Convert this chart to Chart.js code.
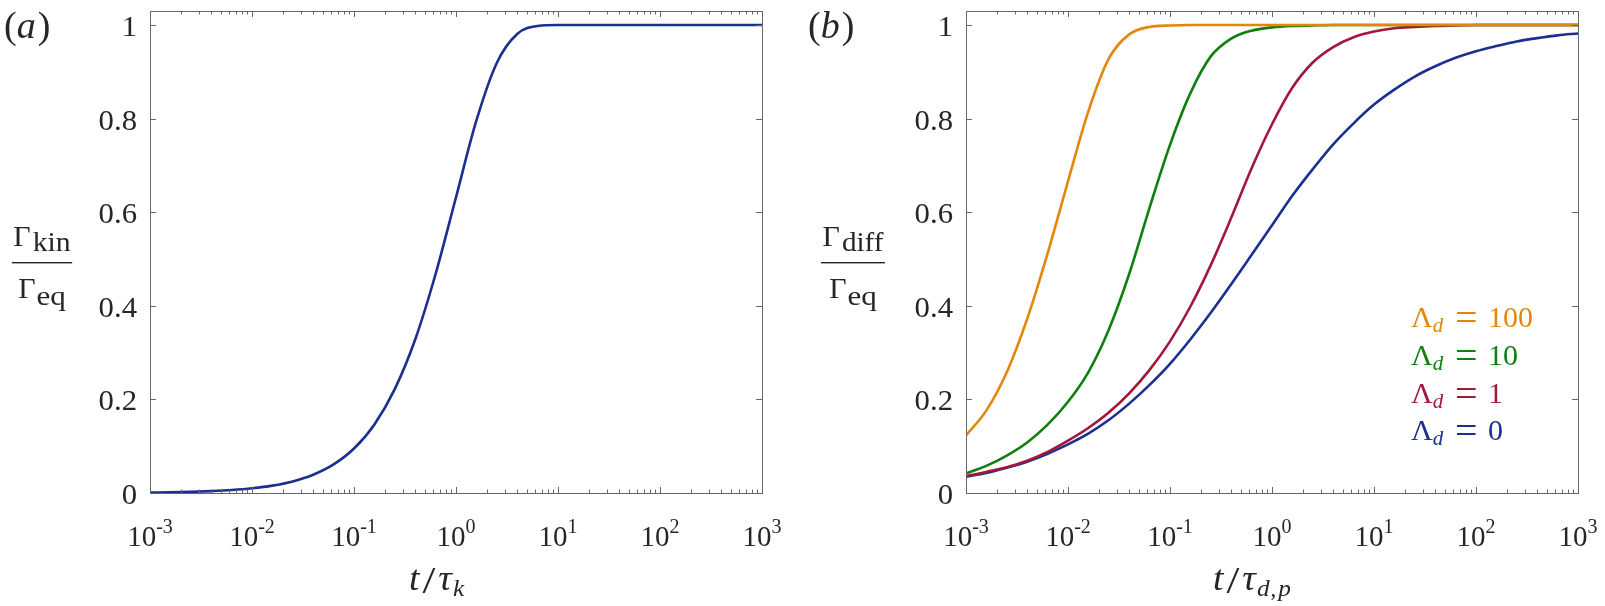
<!DOCTYPE html>
<html>
<head>
<meta charset="utf-8">
<script src="https://cdn.jsdelivr.net/npm/chart.js@4.4.1/dist/chart.umd.min.js"></script>
<style>
  html, body { margin: 0; padding: 0; background: #fff; }
  #wrap { position: relative; width: 1605px; height: 606px; }
  canvas { position: absolute; left: 0; top: 0; }
</style>
</head>
<body>
<div id="wrap">
  <canvas id="panel-a" width="1605" height="606"></canvas>
  <canvas id="panel-b" width="1605" height="606"></canvas>
</div>
<script>
// ticks
const yTicks = [0, 0.2, 0.4, 0.6, 0.8, 1];
const yTickLabels = ['0', '0.2', '0.4', '0.6', '0.8', '1'];
const xDecades = [1e-3, 1e-2, 1e-1, 1, 10, 100, 1000];
const xTickExps = ['-3', '-2', '-1', '0', '1', '2', '3'];

// time samples (5 per decade)
const tGrid = [0.001, 0.00158, 0.00251, 0.00398, 0.00631, 0.01, 0.0158, 0.0251, 0.0398, 0.0631,
               0.1, 0.158, 0.251, 0.398, 0.631, 1, 1.58, 2.51, 3.98, 6.31,
               10, 15.8, 25.1, 39.8, 63.1, 100, 158, 251, 398, 631, 1000];

// panel (a): kinetic adsorption
const gammaKin = [0.001, 0.0016, 0.0025, 0.004, 0.0063, 0.010, 0.0157, 0.0248, 0.039, 0.061,
                  0.095, 0.146, 0.222, 0.328, 0.468, 0.632, 0.795, 0.919, 0.981, 0.998,
                  1, 1, 1, 1, 1, 1, 1, 1, 1, 1, 1];

// panel (b): diffusion, one series per Lambda_d
const lambda100 = [0.123, 0.176, 0.258, 0.372, 0.512, 0.666, 0.815, 0.928, 0.980, 0.996,
                   0.999, 1, 1, 1, 1, 1, 1, 1, 1, 1,
                   1, 1, 1, 1, 1, 1, 1, 1, 1, 1, 1];
const lambda10 = [0.042, 0.058, 0.080, 0.108, 0.146, 0.195, 0.258, 0.349, 0.468, 0.610,
                  0.744, 0.854, 0.933, 0.971, 0.988, 0.995, 0.998, 0.999, 1, 1,
                  1, 1, 1, 1, 1, 1, 1, 1, 1, 1, 1];
const lambda1 = [0.036, 0.045, 0.055, 0.069, 0.088, 0.112, 0.139, 0.172, 0.213, 0.263,
                 0.324, 0.398, 0.487, 0.588, 0.694, 0.788, 0.866, 0.920, 0.953, 0.974,
                 0.986, 0.993, 0.996, 0.998, 0.999, 1, 1, 1, 1, 1, 1];
const lambda0 = [0.035, 0.043, 0.054, 0.067, 0.084, 0.104, 0.127, 0.156, 0.191, 0.231,
                 0.276, 0.328, 0.385, 0.446, 0.509, 0.572, 0.635, 0.692, 0.745, 0.790,
                 0.830, 0.862, 0.890, 0.912, 0.930, 0.944, 0.955, 0.965, 0.972, 0.978, 0.982];

const BLUE = '#1b2f8f';
const RED = '#a3173a';
const GREEN = '#0f7f0f';
const ORANGE = '#e3870c';
const TEXT = '#262626';
const AXIS = '#666666';
const SERIF = '"Liberation Serif", "Times New Roman", serif';

function font(size, italic) {
    return (italic ? 'italic ' : '') + size + 'px ' + SERIF;
}

function toPoints(xs, ys) {
    return xs.map((x, i) => ({ x: x, y: ys[i] }));
}

function runsWidth(ctx, runs) {
    let w = 0;
    runs.forEach(r => {
        ctx.font = r.font;
        w += ctx.measureText(r.text).width * (r.sx || 1) + (r.gap || 0);
    });
    return w;
}

// draws a row of text pieces (optionally stretched sideways)
function drawRuns(ctx, runs, x, y, align) {
    const w = runsWidth(ctx, runs);
    let cx = align === 'center' ? x - w / 2 : (align === 'right' ? x - w : x);
    runs.forEach(r => {
        ctx.font = r.font;
        ctx.fillStyle = r.color || TEXT;
        ctx.save();
        ctx.translate(cx, y + (r.dy || 0));
        ctx.scale(r.sx || 1, 1);
        ctx.fillText(r.text, 0, 0);
        ctx.restore();
        cx += ctx.measureText(r.text).width * (r.sx || 1) + (r.gap || 0);
    });
    return w;
}

function panelDecor(cfg) {
    return {
        id: 'decor' + cfg.name,
        afterDatasetsDraw(chart) {
            const ctx = chart.ctx;
            const xs = chart.scales.x;
            const ys = chart.scales.y;
            const { left, right, top, bottom } = chart.chartArea;
            ctx.save();
            ctx.textBaseline = 'alphabetic';
            ctx.textAlign = 'left';

            // box and inward ticks
            ctx.strokeStyle = AXIS;
            ctx.lineWidth = 1;
            ctx.strokeRect(Math.round(left) + 0.5, Math.round(top) + 0.5, Math.round(right - left), Math.round(bottom - top));
            ctx.beginPath();
            yTicks.forEach(v => {
                const py = Math.round(ys.getPixelForValue(v)) + 0.5;
                ctx.moveTo(left, py); ctx.lineTo(left + 6, py);
                ctx.moveTo(right, py); ctx.lineTo(right - 6, py);
            });
            xDecades.forEach((d, i) => {
                const px = Math.round(xs.getPixelForValue(d)) + 0.5;
                ctx.moveTo(px, bottom); ctx.lineTo(px, bottom - 6);
                ctx.moveTo(px, top); ctx.lineTo(px, top + 6);
                if (i < xDecades.length - 1) {
                    for (let m = 2; m <= 9; m++) {
                        const pm = Math.round(xs.getPixelForValue(m * d)) + 0.5;
                        ctx.moveTo(pm, bottom); ctx.lineTo(pm, bottom - 3.5);
                        ctx.moveTo(pm, top); ctx.lineTo(pm, top + 3.5);
                    }
                }
            });
            ctx.stroke();

            // tick labels
            yTicks.forEach((v, i) => {
                const py = ys.getPixelForValue(v);
                drawRuns(ctx, [{ text: yTickLabels[i], font: font(29), sx: 1.06 }], left - 13, py + 11, 'right');
            });
            xDecades.forEach((d, i) => {
                const px = xs.getPixelForValue(d);
                drawRuns(ctx, [
                    { text: '10', font: font(29) },
                    { text: xTickExps[i], font: font(20), dy: -13 }
                ], px, 546, 'center');
            });

            // x title
            drawRuns(ctx, cfg.xTitle, cfg.xTitleX, 590, 'left');

            // y title as a fraction
            const wn = runsWidth(ctx, cfg.yNum);
            const wd = runsWidth(ctx, cfg.yDen);
            const barW = Math.max(wn, wd) + 3;
            drawRuns(ctx, cfg.yNum, cfg.yTitleX, 246, 'center');
            drawRuns(ctx, cfg.yDen, cfg.yTitleX, 298, 'center');
            ctx.fillStyle = TEXT;
            ctx.fillRect(cfg.yTitleX - barW / 2, 262, barW, 1.4);

            // panel letter
            drawRuns(ctx, [
                { text: '(', font: font(38) },
                { text: cfg.letter, font: font(38, true), gap: 2 },
                { text: ')', font: font(38) }
            ], cfg.letterX, 38, 'left');

            if (cfg.legend) {
                cfg.legend.forEach((row, i) => {
                    const by = 327 + i * 37.8;
                    drawRuns(ctx, [{ text: 'Λ', font: font(30), color: row.color },
                                   { text: 'd', font: font(21, true), dy: 5, color: row.color }], 1411, by, 'left');
                    drawRuns(ctx, [{ text: '=', font: font(40), color: row.color }], 1455, by + 4, 'left');
                    drawRuns(ctx, [{ text: row.label, font: font(30), color: row.color }], 1488, by, 'left');
                });
            }
            ctx.restore();
        }
    };
}

function makeChart(canvasId, datasets, padding, decor) {
    return new Chart(document.getElementById(canvasId), {
        type: 'line',
        data: { datasets: datasets },
        options: {
            responsive: false,
            animation: false,
            events: [],
            layout: { padding: padding },
            plugins: { legend: { display: false }, tooltip: { enabled: false } },
            elements: {
                point: { radius: 0 },
                line: { borderWidth: 2.6, cubicInterpolationMode: 'monotone', fill: false }
            },
            scales: {
                x: { type: 'logarithmic', min: 1e-3, max: 1e3, display: false },
                y: { type: 'linear', min: 0, max: 1.03, display: false }
            }
        },
        plugins: [decor]
    });
}

makeChart('panel-a', [
    { data: toPoints(tGrid, gammaKin), borderColor: BLUE }
], { left: 150, top: 11, right: 1605 - 762, bottom: 606 - 493 }, panelDecor({
    name: 'a',
    letter: 'a',
    letterX: 4,
    xTitleX: 409,
    xTitle: [
        { text: 't', font: font(35, true), sx: 1.08, gap: 3 },
        { text: '/', font: font(37), sx: 1.25, dy: 3, gap: 3 },
        { text: 'τ', font: font(35, true), sx: 1.08, gap: 1 },
        { text: 'k', font: font(23, true), sx: 1.1, dy: 6 }
    ],
    yTitleX: 42,
    yNum: [{ text: 'Γ', font: font(30), gap: 2 }, { text: 'kin', font: font(27), dy: 5, sx: 1.1 }],
    yDen: [{ text: 'Γ', font: font(30), gap: 1 }, { text: 'eq', font: font(27), dy: 7, sx: 1.15 }]
}));

makeChart('panel-b', [
    { data: toPoints(tGrid, lambda100), borderColor: ORANGE },
    { data: toPoints(tGrid, lambda10), borderColor: GREEN },
    { data: toPoints(tGrid, lambda1), borderColor: RED },
    { data: toPoints(tGrid, lambda0), borderColor: BLUE }
], { left: 966, top: 11, right: 1605 - 1578, bottom: 606 - 493 }, panelDecor({
    name: 'b',
    letter: 'b',
    letterX: 808,
    xTitleX: 1213,
    xTitle: [
        { text: 't', font: font(35, true), sx: 1.08, gap: 3 },
        { text: '/', font: font(37), sx: 1.25, dy: 3, gap: 3 },
        { text: 'τ', font: font(35, true), sx: 1.08, gap: 1 },
        { text: 'd', font: font(23, true), sx: 1.1, dy: 6, gap: 1 },
        { text: ',', font: font(23), dy: 6, gap: 2 },
        { text: 'p', font: font(23, true), sx: 1.1, dy: 6 }
    ],
    yTitleX: 853,
    yNum: [{ text: 'Γ', font: font(30), gap: 2 }, { text: 'diff', font: font(27), dy: 5, sx: 1.08 }],
    yDen: [{ text: 'Γ', font: font(30), gap: 1 }, { text: 'eq', font: font(27), dy: 7, sx: 1.15 }],
    legend: [
        { label: '100', color: ORANGE },
        { label: '10', color: GREEN },
        { label: '1', color: RED },
        { label: '0', color: BLUE }
    ]
}));
</script>
</body>
</html>
